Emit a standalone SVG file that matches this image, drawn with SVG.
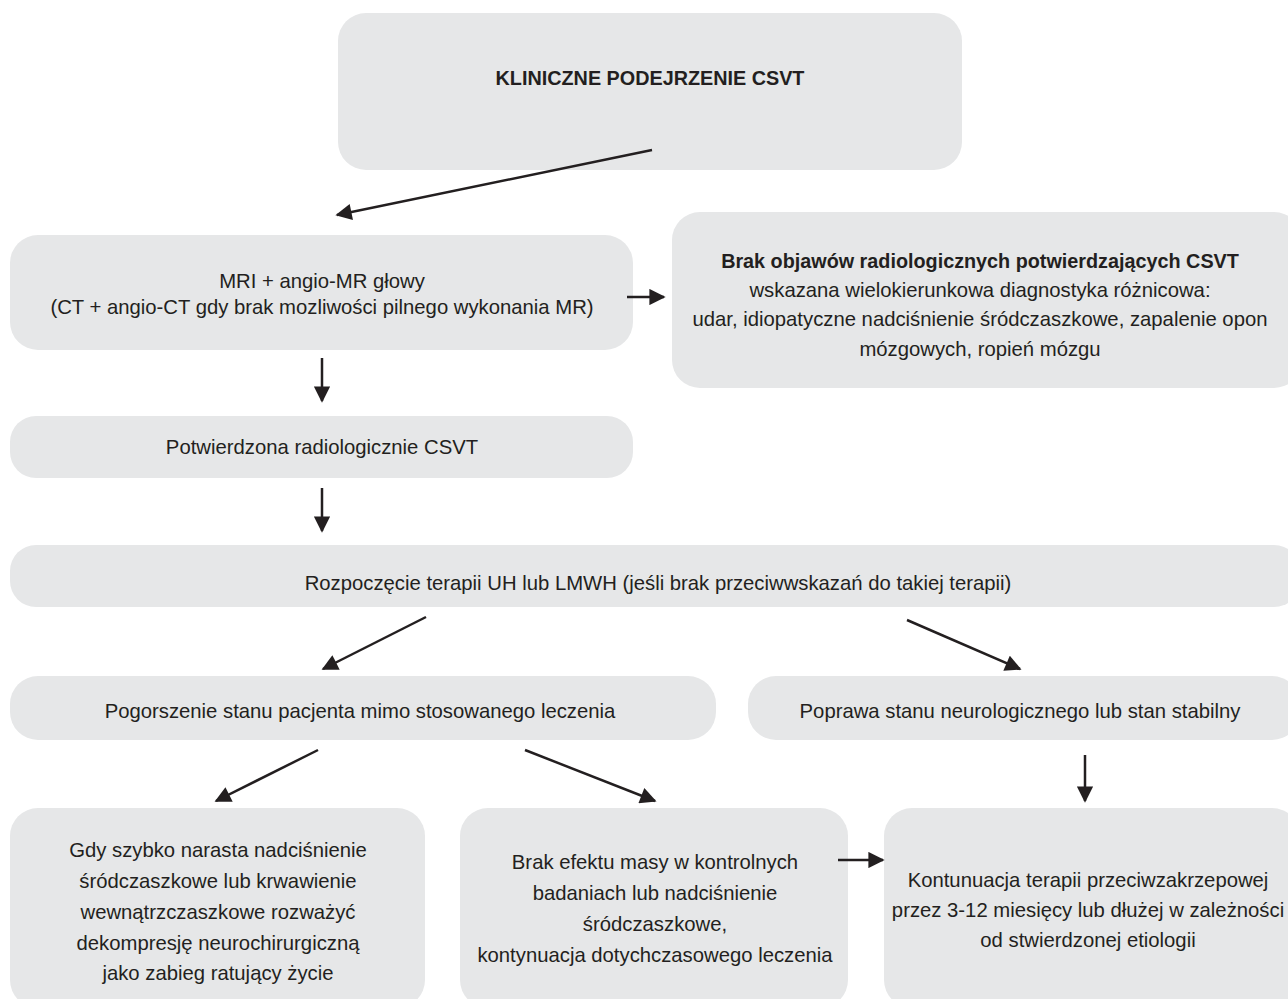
<svg xmlns="http://www.w3.org/2000/svg" width="1288" height="999" viewBox="0 0 1288 999">
<defs>
<style>
.box{fill:#e6e7e8;}
.t{font-family:"Liberation Sans",Arial,sans-serif;font-size:20.3px;fill:#231f20;text-anchor:middle;}
.b{font-weight:bold;font-size:19.8px;}
.c{stroke:#231f20;stroke-width:2.5;fill:none;marker-end:url(#ah);}
</style>
<marker id="ah" viewBox="0 0 10 10" refX="9" refY="5" markerWidth="7.5" markerHeight="6.5" markerUnits="strokeWidth" orient="auto">
<path d="M0,0 L10,5 L0,10 Z" fill="#231f20"/>
</marker>
</defs>
<rect width="1288" height="999" fill="#ffffff"/>
<g id="n1"><rect class="box" x="338" y="13" width="624" height="157" rx="28"/><text class="t b" x="650" y="85">KLINICZNE PODEJRZENIE CSVT</text></g>
<g id="n2"><rect class="box" x="10" y="235" width="623" height="115" rx="28"/><text class="t" x="322" y="288">MRI + angio-MR głowy</text><text class="t" x="322" y="314">(CT + angio-CT gdy brak mozliwości pilnego wykonania MR)</text></g>
<g id="n3"><rect class="box" x="672" y="212" width="630" height="176" rx="28"/><text class="t b" x="980" y="268">Brak objawów radiologicznych potwierdzających CSVT</text><text class="t" x="980" y="297">wskazana wielokierunkowa diagnostyka różnicowa:</text><text class="t" x="980" y="326">udar, idiopatyczne nadciśnienie śródczaszkowe, zapalenie opon</text><text class="t" x="980" y="356">mózgowych, ropień mózgu</text></g>
<g id="n4"><rect class="box" x="10" y="416" width="623" height="62" rx="26"/><text class="t" x="322" y="454">Potwierdzona radiologicznie CSVT</text></g>
<g id="n5"><rect class="box" x="10" y="545" width="1290" height="62" rx="26"/><text class="t" x="658" y="590">Rozpoczęcie terapii UH lub LMWH (jeśli brak przeciwwskazań do takiej terapii)</text></g>
<g id="n6"><rect class="box" x="10" y="676" width="706" height="64" rx="28"/><text class="t" x="360" y="718">Pogorszenie stanu pacjenta mimo stosowanego leczenia</text></g>
<g id="n7"><rect class="box" x="748" y="676" width="552" height="64" rx="28"/><text class="t" x="1020" y="718">Poprawa stanu neurologicznego lub stan stabilny</text></g>
<g id="n8"><rect class="box" x="10" y="808" width="415" height="200" rx="28"/><text class="t" x="218" y="857">Gdy szybko narasta nadciśnienie</text><text class="t" x="218" y="888">śródczaszkowe lub krwawienie</text><text class="t" x="218" y="919">wewnątrzczaszkowe rozważyć</text><text class="t" x="218" y="950">dekompresję neurochirurgiczną</text><text class="t" x="218" y="980">jako zabieg ratujący życie</text></g>
<g id="n9"><rect class="box" x="460" y="808" width="388" height="200" rx="28"/><text class="t" x="655" y="869">Brak efektu masy w kontrolnych</text><text class="t" x="655" y="900">badaniach lub nadciśnienie</text><text class="t" x="655" y="931">śródczaszkowe,</text><text class="t" x="655" y="962">kontynuacja dotychczasowego leczenia</text></g>
<g id="n10"><rect class="box" x="884" y="808" width="416" height="200" rx="28"/><text class="t" x="1088" y="887">Kontunuacja terapii przeciwzakrzepowej</text><text class="t" x="1088" y="917">przez 3-12 miesięcy lub dłużej w zależności</text><text class="t" x="1088" y="947">od stwierdzonej etiologii</text></g>
<g id="connectors">
<line class="c" x1="652" y1="150" x2="337" y2="215"/>
<line class="c" x1="627" y1="297" x2="664" y2="297"/>
<line class="c" x1="322" y1="358" x2="322" y2="401"/>
<line class="c" x1="322" y1="488" x2="322" y2="531"/>
<line class="c" x1="426" y1="617" x2="323" y2="669"/>
<line class="c" x1="907" y1="620" x2="1020" y2="669"/>
<line class="c" x1="318" y1="750" x2="216" y2="801"/>
<line class="c" x1="525" y1="750" x2="655" y2="801"/>
<line class="c" x1="1085" y1="755" x2="1085" y2="801"/>
<line class="c" x1="838" y1="860" x2="883" y2="860"/>
</g>
</svg>
